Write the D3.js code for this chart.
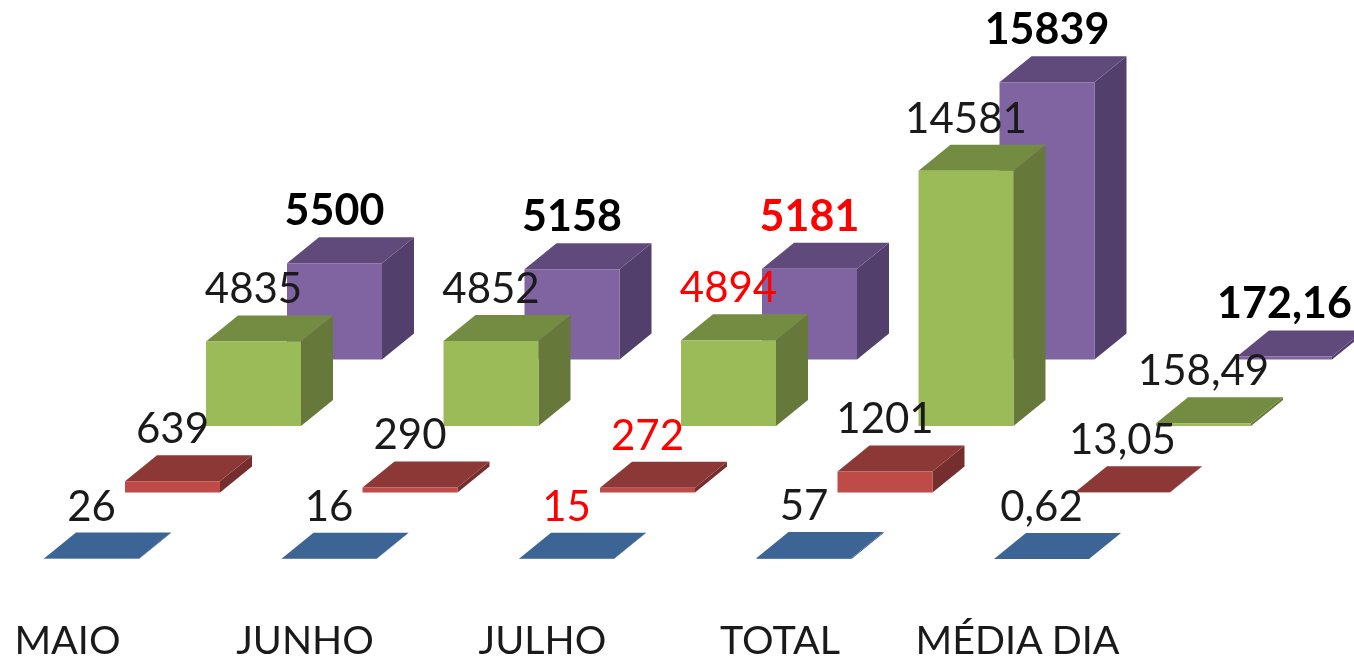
<!DOCTYPE html>
<html>
<head>
<meta charset="utf-8">
<script src="https://cdn.jsdelivr.net/npm/d3@7"></script>
<style>
  html, body { margin: 0; background: #fff; }
  svg { display: block; filter: blur(0.7px); }
  text { font-family: Lato, "Open Sans", sans-serif; }
</style>
</head>
<body>
<div id="chart"></div>
<script>
// values
const categories = ["MAIO", "JUNHO", "JULHO", "TOTAL", "MÉDIA DIA"]
const series1 = [26, 16, 15, 57, 0.62]
const series2 = [639, 290, 272, 1201, 13.05]
const series3 = [4835, 4852, 4894, 14581, 158.49]
const series4 = [5500, 5158, 5181, 15839, 172.16]

// front, top and side colour of each series
const colors = [
  ["#4f81bd", "#3c6494", "#34557f"],
  ["#be4b48", "#8c3836", "#752e2d"],
  ["#9bbb59", "#748c42", "#66793a"],
  ["#8064a2", "#604a7b", "#533f6b"]
]

const width = 1354, height = 658
const barW = 95, depthX = 32, depthY = 26

const allSeries = [series1, series2, series3, series4]
const seriesIdx = d3.range(allSeries.length)

const xCat = d3.scalePoint().domain(categories).range([44, 994])
// each series sits further back on the floor
const xSeries = d3.scalePoint().domain(seriesIdx).range([0, 243])
const yBase = d3.scalePoint().domain(seriesIdx).range([559, 359.5])
const h = d3.scaleLinear().domain([0, 16000]).range([0, 280])

const svg = d3.select("#chart").append("svg")
  .attr("width", width)
  .attr("height", height)

const poly = d3.line().curve(d3.curveLinearClosed)

// back series first so the front ones cover them
seriesIdx.slice().reverse().forEach(s => {
  const g = svg.append("g")
  allSeries[s].forEach((v, i) => {
    const x0 = xCat(categories[i]) + xSeries(s)
    const x1 = x0 + barW
    const y0 = yBase(s)
    const y1 = y0 - h(v)

    g.append("path") // side
      .attr("fill", colors[s][2])
      .attr("d", poly([[x1, y0], [x1 + depthX, y0 - depthY], [x1 + depthX, y1 - depthY], [x1, y1]]))
    g.append("path") // top
      .attr("fill", colors[s][1])
      .attr("d", poly([[x0, y1], [x1, y1], [x1 + depthX, y1 - depthY], [x0 + depthX, y1 - depthY]]))
    g.append("path") // front
      .attr("fill", colors[s][0])
      .attr("d", poly([[x0, y0], [x1, y0], [x1, y1], [x0, y1]]))
  })
})

// data labels, the JULHO group is red, the last series is bold
seriesIdx.forEach(s => {
  svg.append("g").selectAll("text")
    .data(allSeries[s])
    .join("text")
    .attr("x", (d, i) => xCat(categories[i]) + xSeries(s) + barW / 2)
    .attr("y", d => yBase(s) - h(d) - 38)
    .attr("text-anchor", "middle")
    .attr("font-size", s == 3 ? 43 : 42)
    .attr("font-weight", s == 3 ? "bold" : "normal")
    .attr("fill", (d, i) => i == 2 ? "#ff0000" : (s == 3 ? "#000" : "#1a1a1a"))
    .text(d => String(d).replace(".", ","))
})

svg.append("g").selectAll("text")
  .data(categories)
  .join("text")
  .attr("x", d => xCat(d) + barW / 2 - 24)
  .attr("y", 654)
  .attr("text-anchor", "middle")
  .attr("font-size", 39.5)
  .attr("fill", "#1a1a1a")
  .text(d => d)
</script>
</body>
</html>
